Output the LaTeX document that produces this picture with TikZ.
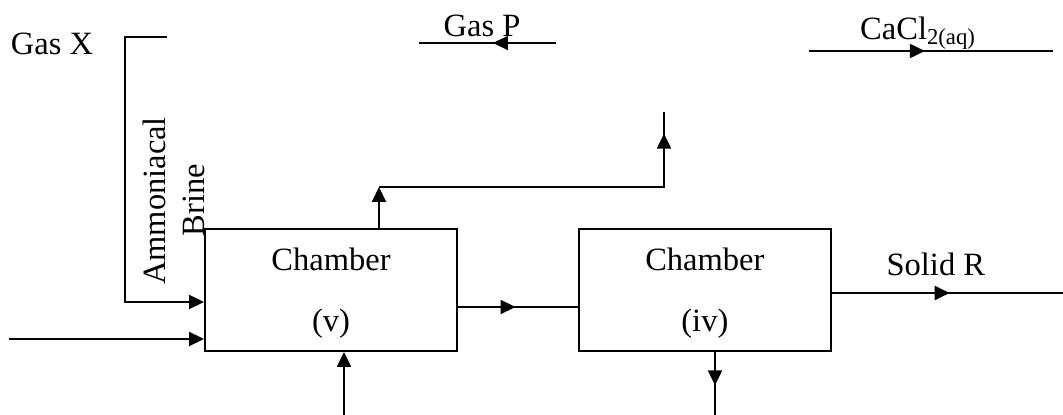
\documentclass[tikz,border=0pt]{standalone}
\usepackage{fontspec}
\setmainfont{Liberation Serif}
\usetikzlibrary{positioning,arrows.meta,decorations.markings}

\begin{document}
\begin{tikzpicture}[
                    x=0.02cm, y=-0.02cm,
                    line width=1.1pt,
                    font=\fontsize{18.5}{22}\selectfont,
                    chamber/.style={draw, rectangle, minimum width=5.04cm, minimum height=2.44cm, inner sep=0pt},
                    tip/.style={-{Triangle[length=0.3cm, width=0.28cm]}},
                    midarrow/.style={postaction={decorate}, decoration={markings, mark=at position #1 with {\arrow{Triangle[length=0.3cm, width=0.28cm]}}}},
                    lbl/.style={inner sep=0pt}
                ]
                \useasboundingbox (0,0) rectangle (1063,415);

                % Chambers
                \node[chamber] (v) at (331,290) {};
                \node[chamber, right=2.4cm of v] (iv) {};
                \node[lbl, anchor=base] (vname) at ([yshift=-0.84cm]v.north) {Chamber};
                \node[lbl, anchor=base] (vnum) at ([yshift=-2.06cm]v.north) {(v)};
                \node[lbl, anchor=base] (ivname) at ([yshift=-0.84cm]iv.north) {Chamber};
                \node[lbl, anchor=base] (ivnum) at ([yshift=-2.06cm]iv.north) {(iv)};

                % Free ends
                \coordinate (xtop) at (167,37);
                \coordinate (brinein) at (9,339);
                \coordinate (vbot) at (344,415);
                \coordinate (vtop) at (379,187);
                \coordinate (pout) at (664,112);
                \coordinate (ivbot) at (715,415);
                \coordinate (rout) at (1063,293);
                \coordinate (pa) at (556,43);
                \coordinate (pb) at (419,43);
                \coordinate (ca) at (809,51);
                \coordinate (cb) at (1053,51);

                % Labels
                \node[lbl] (gasx) at (52,44) {Gas X};
                \node[lbl, rotate=90] (ammo) at (154,201) {Ammoniacal};
                \node[lbl, rotate=90] (brine) at (194,200) {Brine};

                % Connections
                \draw[tip] (xtop) -- ++(-42,0) |- ([yshift=-0.24cm]v.west);
                \draw[tip] (brinein) -- (brinein -| v.west);
                \draw[tip] (vbot) -- (vbot |- v.south);
                \draw[tip] (v.north -| vtop) -- (vtop);
                \draw[midarrow=0.94] (vtop) -| (pout);
                \draw[midarrow=0.48] ([yshift=-0.34cm]v.east) -- ([yshift=-0.34cm]iv.west);
                \draw[midarrow=0.53] (iv.south -| ivbot) -- (ivbot);
                \draw[midarrow=0.51] (iv.east |- rout) -- node[lbl, above=0.32cm, pos=0.45] {Solid R} (rout);
                \draw[midarrow=0.46] (pa) -- node[lbl, above=0.1cm, pos=0.54] {Gas P} (pb);
                \draw[midarrow=0.475] (ca) -- node[lbl, above=0.01cm, pos=0.447] {CaCl\textsubscript{2(aq)}} (cb);
            \end{tikzpicture}
\end{document}
